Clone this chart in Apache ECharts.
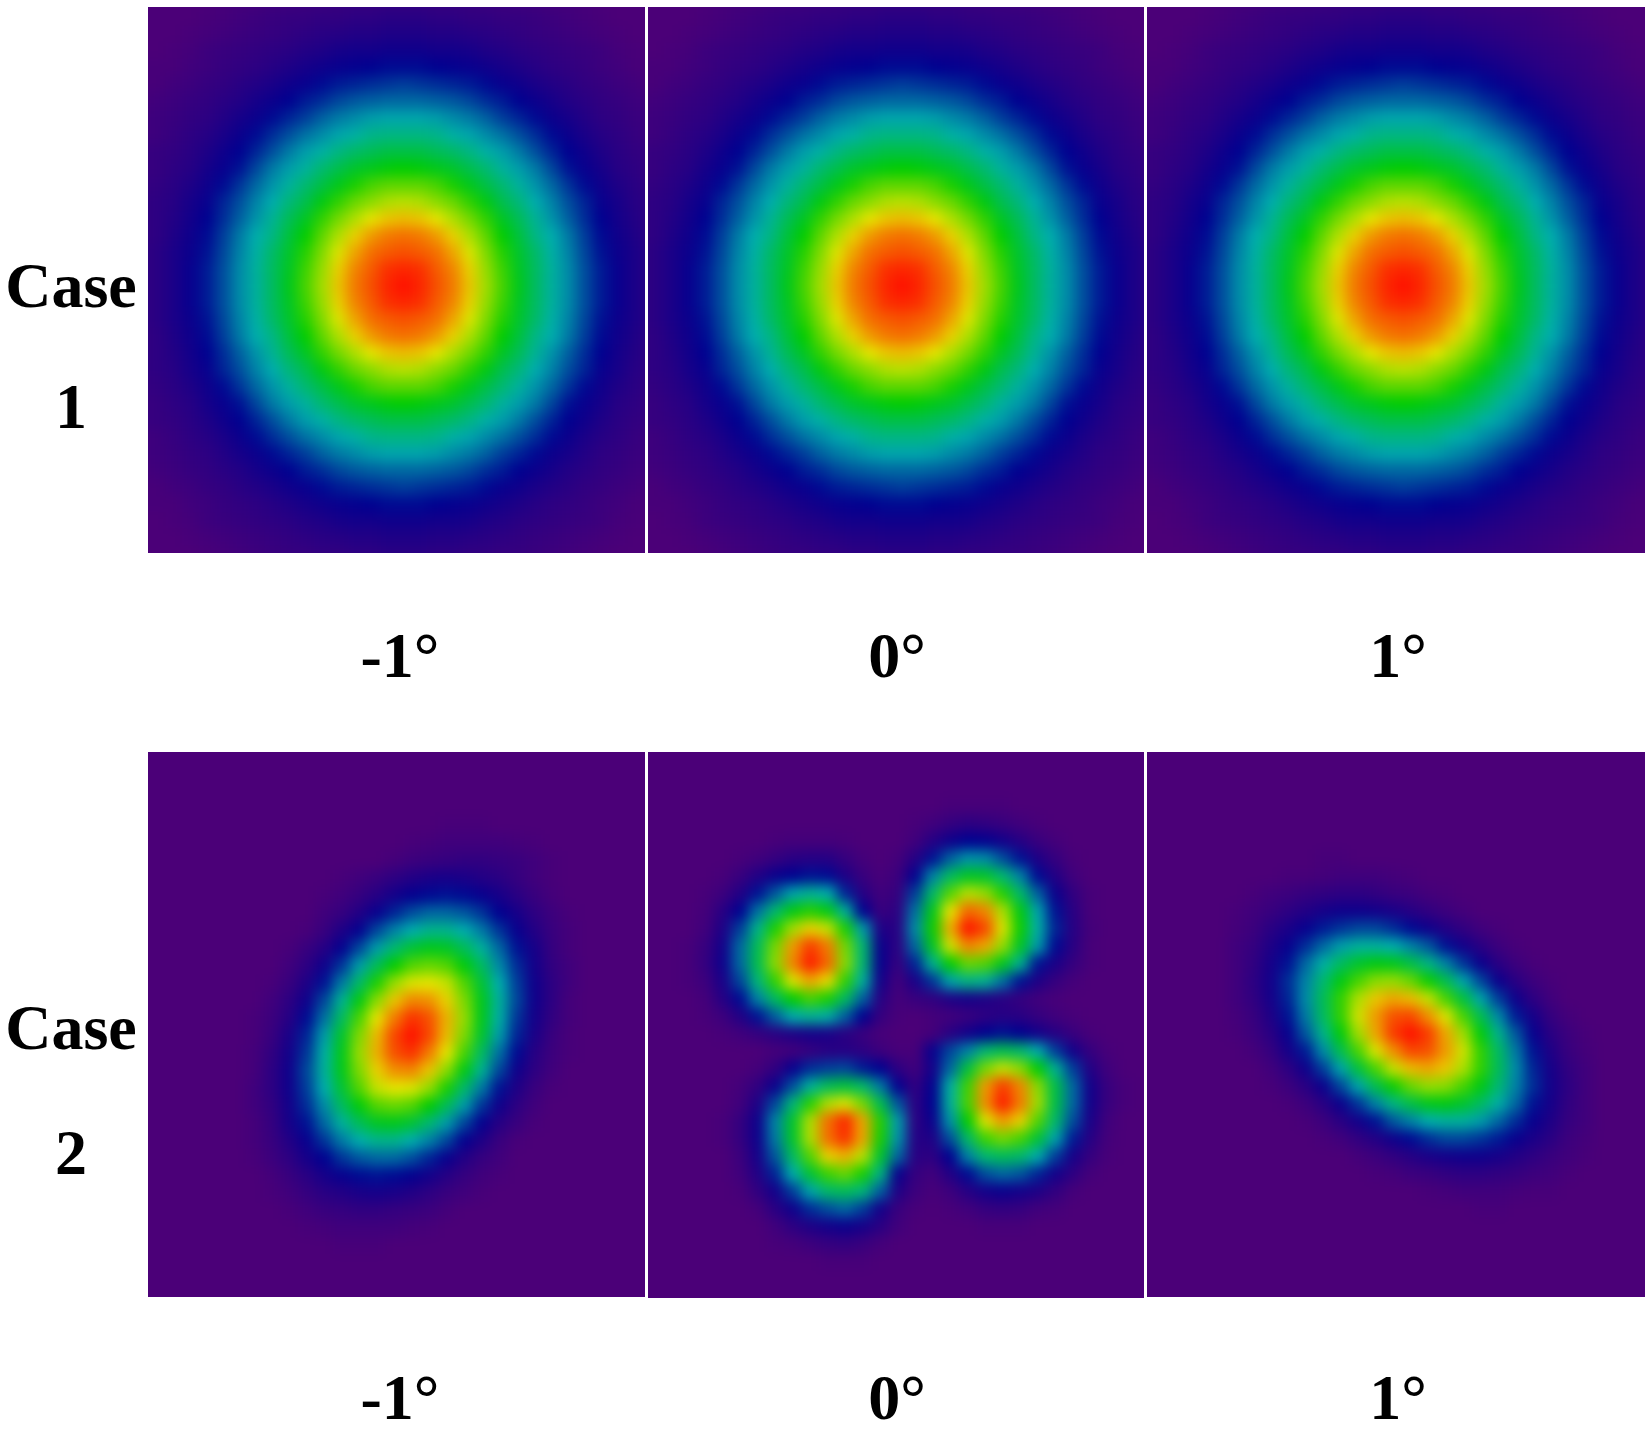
<!DOCTYPE html>
<html>
<head>
<meta charset="utf-8">
<title>Case 1 / Case 2</title>
<script src="https://cdn.jsdelivr.net/npm/echarts@6/dist/echarts.min.js"></script>
<style>
  html, body { margin: 0; padding: 0; background: #fff; }
  #page { position: relative; width: 1651px; height: 1431px; overflow: hidden; background: #fff; }
  .panel { position: absolute; overflow: hidden; background: #4b0078; }
  .field { position: absolute; filter: blur(6.5px); }
  #labels { position: absolute; left: 0; top: 0; width: 1651px; height: 1431px; }
</style>
</head>
<body>
<div id="page"><div id="labels"></div></div>
<script>
// tick labels
const caseLabels = ["Case", "1", "Case", "2"];
const angleLabels = ["-1°", "0°", "1°"];

// values, 0 = background purple, 100 = peak red
const caseOneValues = [
  [0,0,0,0,0,1,2,2,3,3,4,4,5,5,5,6,6,6,5,5,5,4,4,3,3,2,2,1,0,0,0,0,0],
  [0,0,0,0,1,2,3,4,5,6,6,7,7,8,8,9,9,9,8,8,7,7,6,6,5,4,3,2,1,0,0,0,0],
  [0,0,0,1,2,3,4,5,6,7,8,9,10,11,11,12,12,12,11,11,10,9,8,7,6,5,4,3,2,1,0,0,0],
  [0,0,1,2,4,5,6,7,8,9,11,12,14,15,15,16,16,16,15,15,14,12,11,9,8,7,6,5,4,2,1,0,0],
  [1,1,1,3,4,6,7,8,10,12,14,16,18,19,20,21,21,21,20,19,18,16,14,12,10,8,7,6,4,3,1,1,1],
  [1,1,3,4,6,7,9,11,13,16,18,21,23,24,25,26,27,26,25,24,23,21,18,16,13,11,9,7,6,4,3,1,1],
  [2,3,4,6,7,9,11,14,17,20,23,25,28,30,31,32,32,32,31,30,28,25,23,20,17,14,11,9,7,6,4,3,2],
  [3,4,5,7,8,11,14,17,21,24,27,31,34,36,38,39,39,39,38,36,34,31,27,24,21,17,14,11,8,7,5,4,3],
  [3,4,6,8,10,13,17,21,25,29,33,36,39,41,44,45,45,45,44,41,39,36,33,29,25,21,17,13,10,8,6,4,3],
  [5,6,7,9,12,16,20,24,29,34,38,41,45,48,50,52,52,52,50,48,45,41,38,34,29,24,20,16,12,9,7,6,5],
  [5,6,8,10,14,18,22,28,34,38,42,47,51,55,57,59,60,59,57,55,51,47,42,38,34,28,22,18,14,10,8,6,5],
  [6,7,9,12,16,21,26,32,37,42,47,52,57,62,66,68,68,68,66,62,57,52,47,42,37,32,26,21,16,12,9,7,6],
  [7,8,10,14,18,24,29,35,40,46,51,58,64,69,72,75,76,75,72,69,64,58,51,46,40,35,29,24,18,14,10,8,7],
  [7,8,11,15,20,25,31,37,43,50,56,64,70,75,80,83,84,83,80,75,70,64,56,50,43,37,31,25,20,15,11,8,7],
  [7,8,12,16,21,27,34,40,45,53,60,68,75,82,87,90,91,90,87,82,75,68,60,53,45,40,34,27,21,16,12,8,7],
  [7,9,13,17,22,28,35,41,48,55,63,71,79,86,91,93,94,93,91,86,79,71,63,55,48,41,35,28,22,17,13,9,7],
  [7,9,13,18,23,29,36,42,49,56,65,73,82,89,93,97,98,97,93,89,82,73,65,56,49,42,36,29,23,18,13,9,7],
  [7,9,13,18,23,29,36,42,49,57,66,74,83,90,94,98,100,98,94,90,83,74,66,57,49,42,36,29,23,18,13,9,7],
  [7,9,13,18,23,29,36,42,49,56,65,73,82,89,93,97,98,97,93,89,82,73,65,56,49,42,36,29,23,18,13,9,7],
  [7,9,13,17,22,28,35,41,48,55,63,71,79,86,91,93,94,93,91,86,79,71,63,55,48,41,35,28,22,17,13,9,7],
  [7,8,12,16,21,27,34,40,45,53,60,68,75,82,87,90,91,90,87,82,75,68,60,53,45,40,34,27,21,16,12,8,7],
  [7,8,11,15,20,25,31,37,43,50,56,64,70,75,80,83,84,83,80,75,70,64,56,50,43,37,31,25,20,15,11,8,7],
  [7,8,10,14,18,24,29,35,40,46,51,58,64,69,72,75,76,75,72,69,64,58,51,46,40,35,29,24,18,14,10,8,7],
  [6,7,9,12,16,21,26,32,37,42,47,52,57,62,66,68,68,68,66,62,57,52,47,42,37,32,26,21,16,12,9,7,6],
  [5,6,8,10,14,18,22,28,34,38,42,47,51,55,57,59,60,59,57,55,51,47,42,38,34,28,22,18,14,10,8,6,5],
  [5,6,7,9,12,16,20,24,29,34,38,41,45,48,50,52,52,52,50,48,45,41,38,34,29,24,20,16,12,9,7,6,5],
  [3,4,6,8,10,13,17,21,25,29,33,36,39,41,44,45,45,45,44,41,39,36,33,29,25,21,17,13,10,8,6,4,3],
  [3,4,5,7,8,11,14,17,21,24,27,31,34,36,38,39,39,39,38,36,34,31,27,24,21,17,14,11,8,7,5,4,3],
  [2,3,4,6,7,9,11,14,17,20,23,25,28,30,31,32,32,32,31,30,28,25,23,20,17,14,11,9,7,6,4,3,2],
  [1,1,3,4,6,7,9,11,13,16,18,21,23,24,25,26,27,26,25,24,23,21,18,16,13,11,9,7,6,4,3,1,1],
  [1,1,1,3,4,6,7,8,10,12,14,16,18,19,20,21,21,21,20,19,18,16,14,12,10,8,7,6,4,3,1,1,1],
  [0,0,1,2,4,5,6,7,8,9,11,12,14,15,15,16,16,16,15,15,14,12,11,9,8,7,6,5,4,2,1,0,0],
  [0,0,0,1,2,3,4,5,6,7,8,9,10,11,11,12,12,12,11,11,10,9,8,7,6,5,4,3,2,1,0,0,0],
  [0,0,0,0,1,2,3,4,5,6,6,7,7,8,8,9,9,9,8,8,7,7,6,6,5,4,3,2,1,0,0,0,0],
  [0,0,0,0,0,1,2,2,3,3,4,4,5,5,5,6,6,6,5,5,5,4,4,3,3,2,2,1,0,0,0,0,0]
];

// case 2, -1 degree
const caseTwoMinusValues = [
  [0,0,0,0,0,0,0,0,0,0,0,0,0,0,0,0,0,0,0,0,0,0,0,0,0,0,0,0,0],
  [0,0,0,0,0,0,0,0,0,0,0,0,0,0,0,0,0,0,0,0,0,0,0,0,0,0,0,0,0],
  [0,0,0,0,0,0,0,0,0,0,0,0,0,0,0,0,0,0,0,0,0,0,0,0,0,0,0,0,0],
  [0,0,0,0,0,0,0,0,0,0,0,0,0,0,0,0,0,0,0,0,0,0,0,0,0,0,0,0,0],
  [0,0,0,0,0,0,0,0,0,0,0,0,0,0,0,0,1,1,1,0,0,0,0,0,0,0,0,0,0],
  [0,0,0,0,0,0,0,0,0,0,0,0,0,0,1,2,3,3,3,3,2,1,0,0,0,0,0,0,0],
  [0,0,0,0,0,0,0,0,0,0,0,0,0,2,4,5,6,7,7,6,5,3,1,0,0,0,0,0,0],
  [0,0,0,0,0,0,0,0,0,0,1,3,5,8,11,13,14,13,11,9,6,3,1,0,0,0,0,0,0],
  [0,0,0,0,0,0,0,0,0,1,3,6,10,15,19,21,22,21,18,14,9,5,2,0,0,0,0,0,0],
  [0,0,0,0,0,0,0,0,0,3,6,11,18,24,29,32,32,30,26,20,14,8,4,1,0,0,0,0,0],
  [0,0,0,0,0,0,0,0,1,5,12,19,28,35,40,44,44,40,34,26,18,11,5,2,0,0,0,0,0],
  [0,0,0,0,0,0,0,1,5,10,19,28,38,47,54,57,56,50,42,32,22,14,6,2,0,0,0,0,0],
  [0,0,0,0,0,0,0,3,8,16,26,38,50,60,67,69,67,59,49,36,25,15,7,3,0,0,0,0,0],
  [0,0,0,0,0,0,1,5,12,22,34,48,62,73,79,80,77,67,54,40,27,16,8,3,0,0,0,0,0],
  [0,0,0,0,0,0,3,8,16,28,43,58,72,83,89,88,82,71,57,42,28,16,8,2,0,0,0,0,0],
  [0,0,0,0,0,1,4,10,21,33,49,66,80,90,97,94,85,73,57,41,26,15,7,2,0,0,0,0,0],
  [0,0,0,0,0,1,5,13,24,38,55,71,84,95,100,95,84,71,55,38,24,13,5,1,0,0,0,0,0],
  [0,0,0,0,0,2,7,15,26,41,57,73,85,94,97,90,80,66,49,33,21,10,4,1,0,0,0,0,0],
  [0,0,0,0,0,2,8,16,28,42,57,71,82,88,89,83,72,58,43,28,16,8,3,0,0,0,0,0,0],
  [0,0,0,0,0,3,8,16,27,40,54,67,77,80,79,73,62,48,34,22,12,5,1,0,0,0,0,0,0],
  [0,0,0,0,0,3,7,15,25,36,49,59,67,69,67,60,50,38,26,16,8,3,0,0,0,0,0,0,0],
  [0,0,0,0,0,2,6,14,22,32,42,50,56,57,54,47,38,28,19,10,5,1,0,0,0,0,0,0,0],
  [0,0,0,0,0,2,5,11,18,26,34,40,44,44,40,35,28,19,12,5,1,0,0,0,0,0,0,0,0],
  [0,0,0,0,0,1,4,8,14,20,26,30,32,32,29,24,18,11,6,3,0,0,0,0,0,0,0,0,0],
  [0,0,0,0,0,0,2,5,9,14,18,21,22,21,19,15,10,6,3,1,0,0,0,0,0,0,0,0,0],
  [0,0,0,0,0,0,1,3,6,9,11,13,14,13,11,8,5,3,1,0,0,0,0,0,0,0,0,0,0],
  [0,0,0,0,0,0,0,1,3,5,6,7,7,6,5,4,2,0,0,0,0,0,0,0,0,0,0,0,0],
  [0,0,0,0,0,0,0,0,1,2,3,3,3,3,2,1,0,0,0,0,0,0,0,0,0,0,0,0,0],
  [0,0,0,0,0,0,0,0,0,0,1,1,1,0,0,0,0,0,0,0,0,0,0,0,0,0,0,0,0],
  [0,0,0,0,0,0,0,0,0,0,0,0,0,0,0,0,0,0,0,0,0,0,0,0,0,0,0,0,0],
  [0,0,0,0,0,0,0,0,0,0,0,0,0,0,0,0,0,0,0,0,0,0,0,0,0,0,0,0,0],
  [0,0,0,0,0,0,0,0,0,0,0,0,0,0,0,0,0,0,0,0,0,0,0,0,0,0,0,0,0],
  [0,0,0,0,0,0,0,0,0,0,0,0,0,0,0,0,0,0,0,0,0,0,0,0,0,0,0,0,0]
];

// case 2, 1 degree
const caseTwoPlusValues = [
  [0,0,0,0,0,0,0,0,0,0,0,0,0,0,0,0,0,0,0,0,0,0,0,0,0,0,0,0,0],
  [0,0,0,0,0,0,0,0,0,0,0,0,0,0,0,0,0,0,0,0,0,0,0,0,0,0,0,0,0],
  [0,0,0,0,0,0,0,0,0,0,0,0,0,0,0,0,0,0,0,0,0,0,0,0,0,0,0,0,0],
  [0,0,0,0,0,0,0,0,0,0,0,0,0,0,0,0,0,0,0,0,0,0,0,0,0,0,0,0,0],
  [0,0,0,0,0,0,0,0,0,0,0,0,0,0,0,0,0,0,0,0,0,0,0,0,0,0,0,0,0],
  [0,0,0,0,0,0,0,0,0,0,0,0,0,0,0,0,0,0,0,0,0,0,0,0,0,0,0,0,0],
  [0,0,0,0,0,0,0,0,0,1,1,0,0,0,0,0,0,0,0,0,0,0,0,0,0,0,0,0,0],
  [0,0,0,0,0,0,0,1,1,2,3,3,3,2,1,0,0,0,0,0,0,0,0,0,0,0,0,0,0],
  [0,0,0,0,0,1,3,4,6,7,8,8,7,5,4,2,1,0,0,0,0,0,0,0,0,0,0,0,0],
  [0,0,0,0,1,3,5,8,11,14,16,16,15,13,10,7,4,2,0,0,0,0,0,0,0,0,0,0,0],
  [0,0,0,0,2,4,9,13,18,23,26,28,28,25,21,16,11,7,3,1,0,0,0,0,0,0,0,0,0],
  [0,0,0,0,3,6,12,18,25,32,38,42,42,40,35,30,22,15,9,4,1,0,0,0,0,0,0,0,0],
  [0,0,0,0,3,7,14,22,32,41,49,55,58,57,52,45,35,26,17,9,4,1,0,0,0,0,0,0,0],
  [0,0,0,0,3,8,15,25,35,47,58,66,72,73,69,61,51,39,28,17,9,4,1,0,0,0,0,0,0],
  [0,0,0,0,3,7,14,24,36,50,64,75,83,86,84,77,66,53,39,27,16,8,3,0,0,0,0,0,0],
  [0,0,0,0,2,5,12,22,34,49,64,78,87,94,95,88,79,66,51,36,23,14,6,2,0,0,0,0,0],
  [0,0,0,0,1,4,9,18,30,44,59,74,86,96,100,96,86,74,59,44,30,18,9,4,1,0,0,0,0],
  [0,0,0,0,0,2,6,14,23,36,51,66,79,88,95,94,87,78,64,49,34,22,12,5,2,0,0,0,0],
  [0,0,0,0,0,0,3,8,16,27,39,53,66,77,84,86,83,75,64,50,36,24,14,7,3,0,0,0,0],
  [0,0,0,0,0,0,1,4,9,17,28,39,51,61,69,73,72,66,58,47,35,25,15,8,3,0,0,0,0],
  [0,0,0,0,0,0,0,1,4,9,17,26,35,45,52,57,58,55,49,41,32,22,14,7,3,0,0,0,0],
  [0,0,0,0,0,0,0,0,1,4,9,15,22,30,35,40,42,42,38,32,25,18,12,6,3,0,0,0,0],
  [0,0,0,0,0,0,0,0,0,1,3,7,11,16,21,25,28,28,26,23,18,13,9,4,2,0,0,0,0],
  [0,0,0,0,0,0,0,0,0,0,0,2,4,7,10,13,15,16,16,14,11,8,5,3,1,0,0,0,0],
  [0,0,0,0,0,0,0,0,0,0,0,0,1,2,4,5,7,8,8,7,6,4,3,1,0,0,0,0,0],
  [0,0,0,0,0,0,0,0,0,0,0,0,0,0,0,1,2,3,3,3,2,1,1,0,0,0,0,0,0],
  [0,0,0,0,0,0,0,0,0,0,0,0,0,0,0,0,0,0,1,1,0,0,0,0,0,0,0,0,0],
  [0,0,0,0,0,0,0,0,0,0,0,0,0,0,0,0,0,0,0,0,0,0,0,0,0,0,0,0,0],
  [0,0,0,0,0,0,0,0,0,0,0,0,0,0,0,0,0,0,0,0,0,0,0,0,0,0,0,0,0],
  [0,0,0,0,0,0,0,0,0,0,0,0,0,0,0,0,0,0,0,0,0,0,0,0,0,0,0,0,0],
  [0,0,0,0,0,0,0,0,0,0,0,0,0,0,0,0,0,0,0,0,0,0,0,0,0,0,0,0,0],
  [0,0,0,0,0,0,0,0,0,0,0,0,0,0,0,0,0,0,0,0,0,0,0,0,0,0,0,0,0],
  [0,0,0,0,0,0,0,0,0,0,0,0,0,0,0,0,0,0,0,0,0,0,0,0,0,0,0,0,0]
];

// case 2, 0 degree, four lobes
const caseTwoZeroValues = [
  [0,0,0,0,0,0,0,0,0,0,0,0,0,0,0,0,0,0,0,0,0,0,0,0,0,0,0,0,0],
  [0,0,0,0,0,0,0,0,0,0,0,0,0,0,0,0,0,0,0,0,0,0,0,0,0,0,0,0,0],
  [0,0,0,0,0,0,0,0,0,0,0,0,0,0,0,0,0,0,0,0,0,0,0,0,0,0,0,0,0],
  [0,0,0,0,0,0,0,0,0,0,0,0,0,0,0,0,0,1,1,1,1,0,0,0,0,0,0,0,0],
  [0,0,0,0,0,0,0,0,0,0,0,0,0,0,0,1,3,6,8,7,5,3,1,0,0,0,0,0,0],
  [0,0,0,0,0,0,0,1,2,2,2,1,0,0,0,3,10,16,20,19,15,10,5,2,0,0,0,0,0],
  [0,0,0,0,0,1,3,6,9,10,10,6,2,0,2,10,22,31,37,36,29,22,12,6,1,0,0,0,0],
  [0,0,0,0,1,5,11,17,20,22,21,12,5,1,4,19,35,49,56,55,47,35,21,11,3,0,0,0,0],
  [0,0,0,1,4,11,22,30,39,43,40,24,10,3,6,27,48,67,76,73,63,48,31,17,7,1,0,0,0],
  [0,0,0,2,9,20,33,47,58,63,58,42,20,5,8,33,57,80,92,89,75,58,39,22,9,1,0,0,0],
  [0,0,0,3,12,27,44,62,74,82,77,62,38,12,9,36,61,85,100,95,79,61,41,24,10,2,0,0,0],
  [0,0,1,5,15,32,50,70,87,96,90,70,47,17,8,32,56,78,89,86,73,56,38,21,9,1,0,0,0],
  [0,0,1,6,16,32,51,72,89,99,92,72,47,18,6,24,43,60,69,67,57,43,22,13,6,1,0,0,0],
  [0,0,1,4,13,28,46,64,79,86,81,64,42,15,3,13,26,39,45,43,33,22,12,6,2,0,0,0,0],
  [0,0,0,2,10,21,35,49,60,66,62,49,31,10,2,5,7,12,14,12,9,6,3,1,0,0,0,0,0],
  [0,0,0,1,4,11,22,31,40,43,41,31,20,6,1,0,2,3,5,8,10,9,6,3,1,0,0,0,0],
  [0,0,0,0,1,3,6,9,12,14,13,9,5,1,0,0,2,9,15,20,22,20,15,10,5,1,0,0,0],
  [0,0,0,0,0,0,0,2,3,6,9,10,8,4,1,1,18,28,35,47,51,48,40,27,15,6,1,0,0],
  [0,0,0,0,0,0,2,7,18,25,27,28,23,20,8,3,15,32,53,70,77,72,60,43,27,11,3,0,0],
  [0,0,0,0,0,2,7,17,29,42,50,53,48,34,19,7,19,41,65,87,96,89,72,52,32,15,5,1,0],
  [0,0,0,0,0,3,12,28,46,63,75,79,70,51,30,8,20,42,66,88,99,90,74,52,32,15,5,1,0],
  [0,0,0,0,1,6,16,35,55,75,91,98,86,63,38,8,17,37,60,79,87,82,67,48,29,13,3,0,0],
  [0,0,0,0,1,6,16,34,55,75,91,97,86,62,37,10,12,29,48,65,70,66,54,39,23,10,2,0,0],
  [0,0,0,0,0,4,14,30,49,67,82,85,76,55,32,9,8,20,35,47,50,48,40,27,14,6,1,0,0],
  [0,0,0,0,0,3,11,24,40,54,65,69,62,45,18,6,3,11,21,29,32,30,24,15,8,2,0,0,0],
  [0,0,0,0,0,1,7,15,27,39,48,50,46,31,12,4,1,4,10,15,17,15,12,7,2,0,0,0,0],
  [0,0,0,0,0,0,2,9,16,25,29,32,27,15,5,1,0,1,3,6,7,6,3,2,0,0,0,0,0],
  [0,0,0,0,0,0,0,3,8,12,15,17,14,9,3,0,0,0,0,1,1,1,0,0,0,0,0,0,0],
  [0,0,0,0,0,0,0,1,2,4,6,7,5,2,0,0,0,0,0,0,0,0,0,0,0,0,0,0,0],
  [0,0,0,0,0,0,0,0,0,0,1,1,1,0,0,0,0,0,0,0,0,0,0,0,0,0,0,0,0],
  [0,0,0,0,0,0,0,0,0,0,0,0,0,0,0,0,0,0,0,0,0,0,0,0,0,0,0,0,0],
  [0,0,0,0,0,0,0,0,0,0,0,0,0,0,0,0,0,0,0,0,0,0,0,0,0,0,0,0,0]
];

const rainbow = ["#4b0078", "#000090", "#00aeae", "#00cc00", "#e6e600", "#ff1000"];
const PAD = 30;

const panels = [
  { x: 148, y: 7, w: 497, h: 546, values: caseOneValues, cell: 16.8, gx: -15, gy: -15 },
  { x: 648, y: 7, w: 496, h: 546, values: caseOneValues, cell: 16.8, gx: -17, gy: -15 },
  { x: 1147, y: 7, w: 498, h: 546, values: caseOneValues, cell: 16.8, gx: -15, gy: -15 },
  { x: 148, y: 752, w: 497, h: 545, values: caseTwoMinusValues, cell: 17.5, gx: 10, gy: -5 },
  { x: 648, y: 752, w: 496, h: 546, values: caseTwoZeroValues, cell: 17.5, gx: -4, gy: -7 },
  { x: 1147, y: 752, w: 498, h: 545, values: caseTwoPlusValues, cell: 17.5, gx: 10, gy: -7 }
];

function toCells(values) {
  const cells = [];
  values.forEach((row, r) => row.forEach((v, c) => cells.push([c, r, v])));
  return cells;
}

function drawPanel(p) {
  const box = document.createElement("div");
  box.className = "panel";
  box.style.cssText = `left:${p.x}px;top:${p.y}px;width:${p.w}px;height:${p.h}px`;
  const el = document.createElement("div");
  el.className = "field";
  el.style.cssText = `left:${-PAD}px;top:${-PAD}px;width:${p.w + PAD * 2}px;height:${p.h + PAD * 2}px`;
  box.appendChild(el);
  document.getElementById("page").insertBefore(box, document.getElementById("labels"));

  const cols = p.values[0].length;
  const rows = p.values.length;
  const chart = echarts.init(el);
  chart.setOption({
    animation: false,
    backgroundColor: rainbow[0],
    tooltip: { show: false },
    grid: {
      left: PAD + p.gx,
      top: PAD + p.gy,
      width: cols * p.cell,
      height: rows * p.cell
    },
    xAxis: { type: "category", show: false, data: p.values[0].map((v, i) => i) },
    yAxis: { type: "category", show: false, inverse: true, data: p.values.map((v, i) => i) },
    visualMap: {
      show: false,
      min: 0,
      max: 100,
      inRange: { color: rainbow }
    },
    series: [
      {
        type: "heatmap",
        data: toCells(p.values),
        progressive: 0,
        itemStyle: { borderWidth: 0 },
        emphasis: { disabled: true }
      }
    ]
  });
}

panels.forEach(drawPanel);

// row and column captions, on their own transparent layer
function caption(text, x, y, size) {
  return {
    type: "text",
    x: x,
    y: y,
    style: {
      text: text,
      fill: "#000",
      font: `bold ${size}px "Liberation Serif", serif`,
      align: "center",
      verticalAlign: "middle"
    }
  };
}

const labelChart = echarts.init(document.getElementById("labels"));
labelChart.setOption({
  animation: false,
  graphic: [
    caption(caseLabels[0], 71, 290, 64),
    caption(caseLabels[1], 71, 411, 64),
    caption(caseLabels[2], 71, 1032, 64),
    caption(caseLabels[3], 71, 1157, 64),
    caption(angleLabels[0], 400, 660, 64),
    caption(angleLabels[1], 897, 660, 64),
    caption(angleLabels[2], 1398, 660, 64),
    caption(angleLabels[0], 400, 1402, 64),
    caption(angleLabels[1], 897, 1402, 64),
    caption(angleLabels[2], 1398, 1402, 64)
  ]
});
</script>
</body>
</html>
